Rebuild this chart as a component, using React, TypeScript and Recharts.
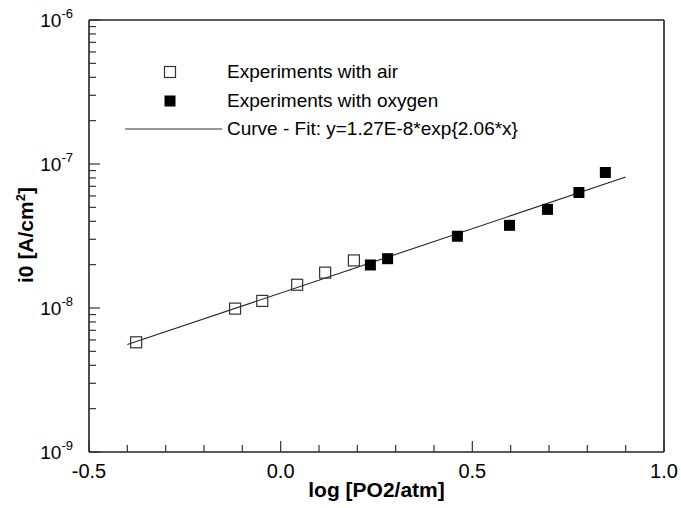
import React from 'react';
import { ScatterChart, Scatter, XAxis, YAxis, ReferenceLine, Legend } from 'recharts';

const FONT = '"Liberation Sans", Arial, Helvetica, sans-serif';

const airX = [-0.377, -0.119, -0.048, 0.043, 0.116, 0.191];
const airY = [5.78e-9, 9.9e-9, 1.12e-8, 1.45e-8, 1.76e-8, 2.14e-8];
const oxyX = [0.234, 0.279, 0.461, 0.597, 0.696, 0.778, 0.847];
const oxyY = [1.99e-8, 2.2e-8, 3.15e-8, 3.75e-8, 4.84e-8, 6.34e-8, 8.73e-8];
const fitX = [-0.4, 0.9];
const fitY = [5.57e-9, 8.11e-8];

const xTicks = [-0.5, -0.4, -0.3, -0.2, -0.1, 0, 0.1, 0.2, 0.3, 0.4, 0.5, 0.6, 0.7, 0.8, 0.9, 1.0];
const yTicks = [
  1e-9, 2e-9, 3e-9, 4e-9, 5e-9, 6e-9, 7e-9, 8e-9, 9e-9,
  1e-8, 2e-8, 3e-8, 4e-8, 5e-8, 6e-8, 7e-8, 8e-8, 9e-8,
  1e-7, 2e-7, 3e-7, 4e-7, 5e-7, 6e-7, 7e-7, 8e-7, 9e-7,
  1e-6,
];
const legendLabels = [
  'Experiments with air',
  'Experiments with oxygen',
  'Curve - Fit: y=1.27E-8*exp{2.06*x}',
];
const xTitle = 'log [PO2/atm]';

const zip = (xs: number[], ys: number[]) => xs.map((x, i) => ({ x, y: ys[i] }));
const airData = zip(airX, airY);
const oxyData = zip(oxyX, oxyY);
const fitData = zip(fitX, fitY);

const XTick = (props: any) => {
  const { x, y, payload } = props;
  const v = payload.value as number;
  const major = Math.abs(v * 2 - Math.round(v * 2)) < 1e-6;
  return (
    <g>
      <line x1={x} x2={x} y1={y} y2={y - (major ? 11 : 7)} stroke="#333" strokeWidth={1.2} />
      {major && (
        <text x={x} y={y + 26} textAnchor="middle" fontSize={20} fill="#000" fontFamily={FONT}>
          {v.toFixed(1)}
        </text>
      )}
    </g>
  );
};

const YTick = (props: any) => {
  const { x, y, payload } = props;
  const v = payload.value as number;
  const lg = Math.log10(v);
  const major = Math.abs(lg - Math.round(lg)) < 1e-6;
  return (
    <g>
      <line x1={x} x2={x + (major ? 11 : 7)} y1={y} y2={y} stroke="#333" strokeWidth={1.2} />
      {major && (
        <text x={x - 16} y={y + 7} textAnchor="end" fontSize={19} fill="#000" fontFamily={FONT}>
          <tspan>10</tspan>
          <tspan dy={-9} fontSize={13}>{String(Math.round(lg))}</tspan>
        </text>
      )}
    </g>
  );
};

const OpenSquare = (props: any) => {
  const { cx, cy } = props;
  return <rect x={cx - 5.5} y={cy - 5.5} width={11} height={11} fill="none" stroke="#333" strokeWidth={1.2} />;
};
const FilledSquare = (props: any) => {
  const { cx, cy } = props;
  return <rect x={cx - 5.5} y={cy - 5.5} width={11} height={11} fill="#000" />;
};
const NoShape = () => <g />;

const LegendContent = () => (
  <div style={{ fontFamily: FONT, fontSize: 19, color: '#000' }}>
    {legendLabels.map((label, i) => (
      <div key={i} style={{ display: 'flex', alignItems: 'center', height: 28.6, whiteSpace: 'nowrap' }}>
        <svg width={107} height={20} style={{ display: 'block' }}>
          {i === 0 && <rect x={44.5} y={4.5} width={11} height={11} fill="none" stroke="#333" strokeWidth={1.2} />}
          {i === 1 && <rect x={44.5} y={4.5} width={11} height={11} fill="#000" />}
          {i === 2 && <line x1={5} x2={102} y1={10} y2={10} stroke="#333" strokeWidth={1.2} />}
        </svg>
        <span style={{ lineHeight: '20px' }}>{label}</span>
      </div>
    ))}
  </div>
);

const XTitle = (props: any) => {
  const vb = props.viewBox || { x: 89, y: 452, width: 575 };
  return (
    <text x={vb.x + vb.width / 2} y={vb.y + 45} textAnchor="middle" fontSize={21} fontWeight="bold" fill="#000" fontFamily={FONT}>
      {xTitle}
    </text>
  );
};

const YTitle = (props: any) => {
  const vb = props.viewBox || { x: 0, y: 20, width: 89, height: 432 };
  const cx = 33;
  const cy = vb.y + vb.height / 2 - 1;
  return (
    <text x={cx} y={cy} transform={`rotate(-90, ${cx}, ${cy})`} textAnchor="middle" fontSize={21} fontWeight="bold" fill="#000" fontFamily={FONT}>
      <tspan>i0 [A/cm</tspan>
      <tspan dy={-8} fontSize={13}>2</tspan>
      <tspan dy={8}>]</tspan>
    </text>
  );
};

export default function App() {
  return (
    <div style={{ position: 'absolute', left: 0, top: 0, width: 681, height: 508, background: '#fff', fontFamily: FONT }}>
      <ScatterChart width={681} height={508} margin={{ top: 20, right: 17, left: 0, bottom: 0 }}>
        <XAxis
          type="number"
          dataKey="x"
          domain={[-0.5, 1.0]}
          ticks={xTicks}
          interval={0}
          allowDataOverflow
          height={56}
          tickSize={0}
          tickMargin={0}
          tickLine={false}
          tick={<XTick />}
          axisLine={{ stroke: '#222', strokeWidth: 1.6 }}
          label={<XTitle />}
        />
        <YAxis
          type="number"
          dataKey="y"
          scale="log"
          domain={[1e-9, 1e-6]}
          ticks={yTicks}
          interval={0}
          allowDataOverflow
          width={89}
          tickSize={0}
          tickMargin={0}
          tickLine={false}
          tick={<YTick />}
          axisLine={{ stroke: '#222', strokeWidth: 1.6 }}
          label={<YTitle />}
        />
        <ReferenceLine y={1e-6} stroke="#222" strokeWidth={1.6} />
        <ReferenceLine x={1.0} stroke="#222" strokeWidth={1.6} />
        <Scatter data={fitData} line={{ stroke: '#222', strokeWidth: 1.1 }} shape={<NoShape />} isAnimationActive={false} />
        <Scatter data={airData} shape={<OpenSquare />} isAnimationActive={false} />
        <Scatter data={oxyData} shape={<FilledSquare />} isAnimationActive={false} />
        <Legend
          layout="vertical"
          align="center"
          verticalAlign="middle"
          wrapperStyle={{ left: 120, top: 58, width: 440 }}
          content={<LegendContent />}
        />
      </ScatterChart>
    </div>
  );
}
